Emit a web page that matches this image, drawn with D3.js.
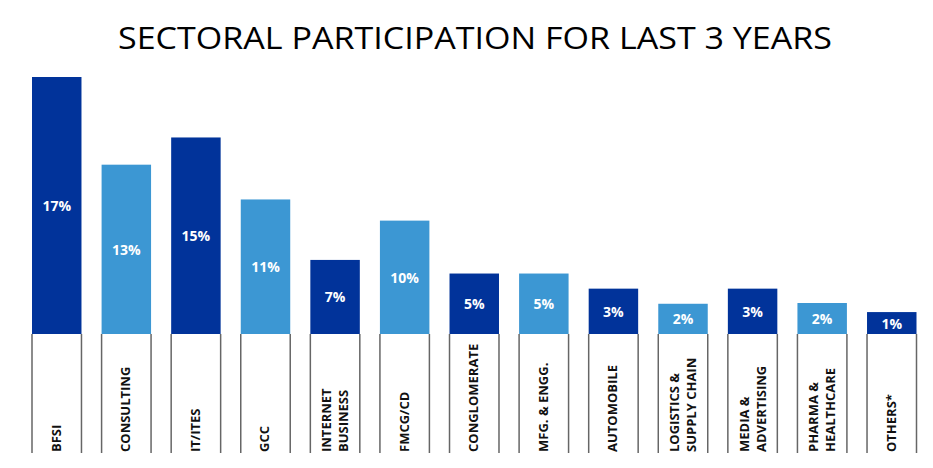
<!DOCTYPE html>
<html>
<head>
<meta charset="utf-8">
<script src="https://cdn.jsdelivr.net/npm/d3@7"></script>
<style>
  body { margin: 0; background: #fff; }
  svg { display: block; font-family: 'Open Sans', sans-serif; }
</style>
</head>
<body>
<div id="chart"></div>
<script>

//
// DATA
//

const sectors = [
    'BFSI', 'CONSULTING', 'IT/ITES', 'GCC', 'INTERNET BUSINESS', 'FMCG/CD',
    'CONGLOMERATE', 'MFG. & ENGG.', 'AUTOMOBILE', 'LOGISTICS & SUPPLY CHAIN',
    'MEDIA & ADVERTISING', 'PHARMA & HEALTHCARE', 'OTHERS*'
];
// label lines as printed under each bar
const sectorLines = [
    ['BFSI'], ['CONSULTING'], ['IT/ITES'], ['GCC'], ['INTERNET', 'BUSINESS'], ['FMCG/CD'],
    ['CONGLOMERATE'], ['MFG. & ENGG.'], ['AUTOMOBILE'], ['LOGISTICS &', 'SUPPLY CHAIN'],
    ['MEDIA &', 'ADVERTISING'], ['PHARMA &', 'HEALTHCARE'], ['OTHERS*']
];
// printed share labels
const shares = [17, 13, 15, 11, 7, 10, 5, 5, 3, 2, 3, 2, 1];
// bar lengths as drawn in the picture (same units as the BFSI bar)
const barValues = [17, 11.2, 13.0, 8.9, 4.9, 7.5, 4.0, 4.0, 3.0, 2.0, 3.0, 2.05, 1.45];

const title = 'SECTORAL PARTICIPATION FOR LAST 3 YEARS';

//
// CHART
//

const width = 933;
const height = 468;
const dark = '#01339a';
const light = '#3c97d3';

const svg = d3.select('#chart')
    .append('svg')
        .attr('width', width)
        .attr('height', height);

// title
svg.append('text')
    .attr('x', 475)
    .attr('y', 49)
    .attr('text-anchor', 'middle')
    .attr('font-size', 31)
    .attr('textLength', 714)
    .attr('lengthAdjust', 'spacingAndGlyphs')
    .attr('fill', '#000')
    .text(title);

// scales
const x = d3.scaleBand()
    .domain(sectors)
    .range([32, 916.5])
    .paddingInner(0.289)
    .paddingOuter(0);
const y = d3.scaleLinear()
    .domain([0, 17])
    .range([334, 77]);

const boxBottom = 453;

const groups = svg.selectAll('g.sector')
    .data(sectors)
    .join('g')
        .attr('class', 'sector')
        .attr('transform', d => `translate(${x(d)},0)`);

// bars
groups.append('rect')
    .attr('x', 0)
    .attr('y', (d, i) => y(barValues[i]))
    .attr('width', x.bandwidth())
    .attr('height', (d, i) => y(0) - y(barValues[i]))
    .attr('fill', (d, i) => i % 2 == 0 ? dark : light);

// value labels
groups.append('text')
    .attr('x', x.bandwidth() / 2)
    .attr('y', (d, i) => (y(barValues[i]) + y(0)) / 2)
    .attr('text-anchor', 'middle')
    .attr('dominant-baseline', 'central')
    .attr('font-size', 14)
    .attr('font-weight', 'bold')
    .attr('fill', '#fff')
    .text((d, i) => `${shares[i]}%`);

// label box sides
[0, x.bandwidth()].forEach(bx => {
    groups.append('line')
        .attr('x1', bx)
        .attr('x2', bx)
        .attr('y1', y(0))
        .attr('y2', boxBottom)
        .attr('stroke', '#666')
        .attr('stroke-width', 1.5);
});

// rotated sector labels
groups.each(function(d, i) {
    const lines = sectorLines[i];
    const cx = x.bandwidth() / 2;
    const offsets = lines.length == 1 ? [-1] : [-9, 8];
    lines.forEach((line, j) => {
        d3.select(this).append('text')
            .attr('transform', `translate(${cx + offsets[j]},${boxBottom - 1}) rotate(-90)`)
            .attr('dominant-baseline', 'central')
            .attr('font-size', 13)
            .attr('font-weight', 'bold')
            .attr('fill', '#111')
            .text(line);
    });
});

</script>
</body>
</html>
